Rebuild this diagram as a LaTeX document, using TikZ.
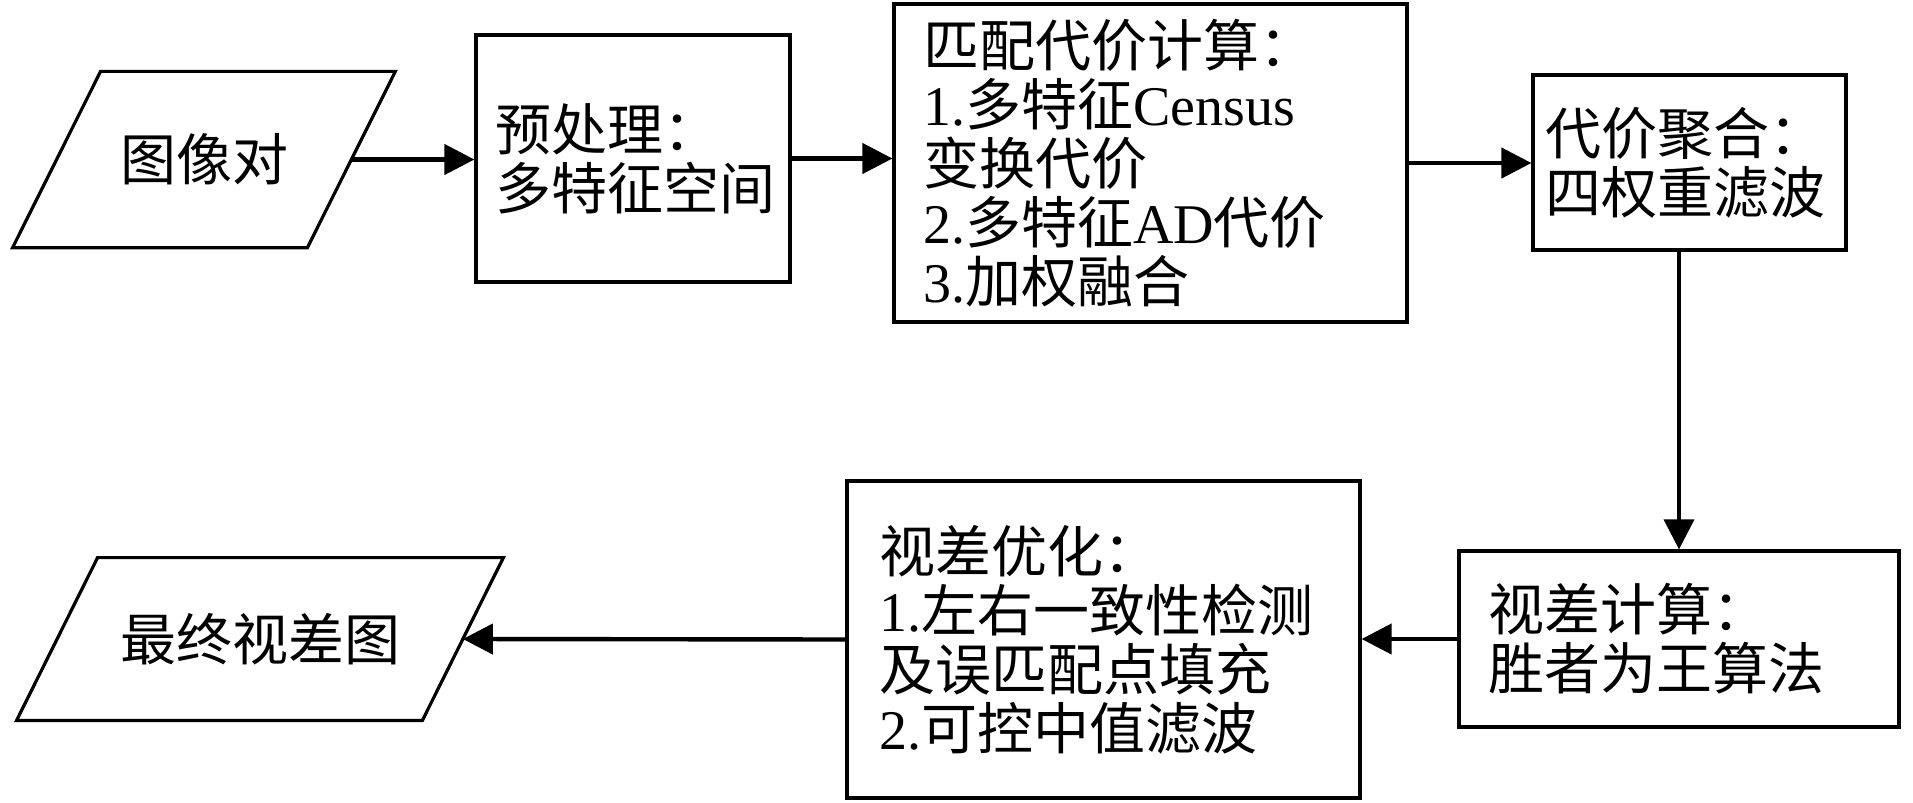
\documentclass[tikz,border=0pt]{standalone}
\usepackage{fontspec}
\setmainfont{Noto Sans CJK SC}
\newfontfamily\lat{Liberation Serif}
\usetikzlibrary{arrows.meta}
\begin{document}
\begin{tikzpicture}[x=0.5pt,y=-0.5pt,
  every node/.style={font=\fontsize{28pt}{29.5pt}\selectfont},
  stepbox/.style={draw, line width=1.6pt, rectangle, align=left, inner ysep=1pt},
  iobox/.style={rectangle, inner sep=0pt},
  ioline/.style={line width=1.6pt, line join=miter},
  flow/.style={line width=2.2pt, -{Triangle[length=15pt,width=15pt]}}]
\fill[white] (0,0) rectangle (1913,803);
\useasboundingbox (0,0) rectangle (1913,803);

\node[iobox, minimum width=191pt, minimum height=87.75pt] (img) at (204,159.5) {图像对};
\draw[ioline] (img.south west) -- ([xshift=44pt]img.north west) -- (img.north east)
  -- ([xshift=-44pt]img.south east) -- cycle;
\node[stepbox, minimum width=157pt, minimum height=123.5pt, inner xsep=9.5pt, text width=138pt] (pre) at (633,158.5)
  {预处理：\\多特征空间};
\node[stepbox, minimum width=256.5pt, minimum height=159pt, inner xsep=14.5pt, text width=227.5pt] (match) at (1150.5,163)
  {匹配代价计算：\\{\lat 1.}多特征{\lat Census}\\变换代价\\{\lat 2.}多特征{\lat AD}代价\\{\lat 3.}加权融合};
\node[stepbox, minimum width=156.5pt, minimum height=87.5pt, inner xsep=6pt, text width=144.5pt] (agg) at (1689.5,162.5)
  {代价聚合：\\四权重滤波};
\node[stepbox, minimum width=220pt, minimum height=88pt, inner xsep=14.5pt, text width=191pt] (disp) at (1679,639)
  {视差计算：\\胜者为王算法};
\node[stepbox, minimum width=256.5pt, minimum height=158.5pt, inner xsep=16pt, text width=224.5pt] (opt) at (1103.5,639.5)
  {视差优化：\\{\lat 1.}左右一致性检测\\及误匹配点填充\\{\lat 2.}可控中值滤波};
\node[iobox, minimum width=243pt, minimum height=81pt] (out) at (260,639) {最终视差图};
\draw[ioline] (out.south west) -- ([xshift=40.5pt]out.north west) -- (out.north east)
  -- ([xshift=-40.5pt]out.south east) -- cycle;

\draw[flow] ([xshift=-22pt]img.east) -- (img.east -| pre.west);
\draw[flow] (pre.east) -- (pre.east -| match.west);
\draw[flow] (match.east) -- (match.east -| agg.west);
\draw[flow, line width=1.8pt] (agg.south -| disp.north) -- (disp.north);
\draw[flow] (disp.west) -- (disp.west -| opt.east);
\draw[flow] (opt.west) -- ([xshift=-20.25pt]out.east);
\end{tikzpicture}
\end{document}
